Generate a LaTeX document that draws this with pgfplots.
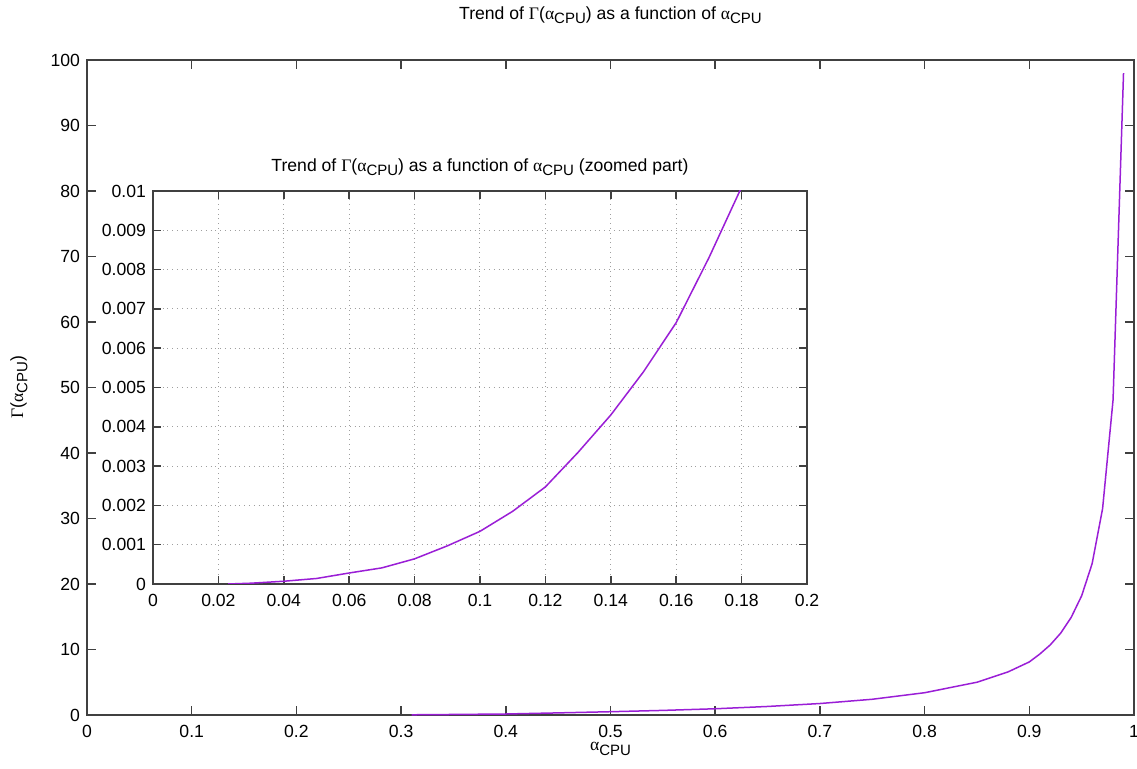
\documentclass[border=0pt]{standalone}
\usepackage{pgfplots}
\pgfplotsset{compat=1.18}
\usepackage{fontspec}
\setmainfont{Liberation Sans}
\newfontfamily\grk{Liberation Serif}
\definecolor{curve}{HTML}{9A1ED6}
\definecolor{axgray}{HTML}{404040}
\newcommand{\cpu}{\raisebox{-0.45ex}{\fontsize{7.5}{8}\selectfont CPU}}
\newcommand{\acpu}{{\grk α}\cpu}
\newcommand{\gacpu}{{\grk Γ}(\acpu)}

% main curve
\pgfplotstableread{
x y
0.31 0.03
0.35 0.08
0.40 0.15
0.42 0.22
0.45 0.32
0.50 0.50
0.55 0.70
0.60 0.95
0.65 1.30
0.70 1.75
0.75 2.40
0.80 3.40
0.85 5.00
0.88 6.60
0.90 8.10
0.91 9.30
0.92 10.70
0.93 12.50
0.94 14.90
0.95 18.20
0.96 23.10
0.97 31.50
0.98 48.10
0.99 98.00
}\maindata

% zoomed part
\pgfplotstableread{
x y
0.023 0.0
0.030 0.00002
0.040 0.00007
0.050 0.00014
0.060 0.00028
0.070 0.00041
0.080 0.00064
0.090 0.00097
0.100 0.00134
0.110 0.00185
0.120 0.00247
0.130 0.00335
0.140 0.00430
0.150 0.00540
0.160 0.00665
0.170 0.00830
0.180 0.01010
}\zoomdata

\begin{document}
\begin{tikzpicture}[font=\fontsize{8.8}{10.5}\selectfont]
\pgfplotsset{
  every axis/.append style={
    axis line style={axgray, line width=0.75pt},
    every tick/.style={axgray, line width=0.75pt},
    tick align=inside,
    tick pos=both,
    minor tick num=0,
    /pgf/number format/assume math mode=true,
    tick label style={font=\fontsize{8.8}{10.5}\selectfont},
  },
}
\begin{axis}[
    name=main,
    at={(0,0)}, anchor=south west,
    scale only axis,
    width=523.5pt, height=327.5pt,
    xmin=0, xmax=1, ymin=0, ymax=100,
    xtick={0,0.1,0.2,0.3,0.4,0.5,0.6,0.7,0.8,0.9,1},
    ytick={0,10,20,30,40,50,60,70,80,90,100},
    xticklabel style={yshift=-1.5pt},
    major tick length=4.5pt,
    clip=false,
]
\addplot[curve, line width=0.75pt] table[x=x, y=y] {\maindata};
\end{axis}

\begin{axis}[
    name=inset,
    at={(33pt,65.5pt)}, anchor=south west,
    scale only axis,
    width=327pt, height=196.5pt,
    xmin=0, xmax=0.2, ymin=0, ymax=0.01,
    xtick={0,0.02,0.04,0.06,0.08,0.1,0.12,0.14,0.16,0.18,0.2},
    ytick={0,0.001,0.002,0.003,0.004,0.005,0.006,0.007,0.008,0.009,0.01},
    scaled x ticks=false, scaled y ticks=false,
    xticklabel style={yshift=-1.5pt, /pgf/number format/fixed, /pgf/number format/precision=2},
    yticklabel style={/pgf/number format/fixed, /pgf/number format/precision=3},
    major tick length=4pt,
    grid=major,
    major grid style={dotted, gray!75, line width=0.5pt},
    axis background/.style={fill=white},
]
\addplot[curve, line width=0.75pt] table[x=x, y=y] {\zoomdata};
\end{axis}

% titles and labels
\node at ([yshift=22.5pt]main.north) {Trend of \gacpu{} as a function of \acpu};
\node at ([yshift=12pt]inset.north) {Trend of \gacpu{} as a function of \acpu{} (zoomed part)};
\node at ([yshift=-17pt]main.south) {\acpu};
\node[rotate=90] at ([xshift=-34pt]main.west) {\gacpu};

% page frame
\pgfresetboundingbox
\path (-43.5pt,-27pt) rectangle (525pt,357.5pt);
\end{tikzpicture}
\end{document}
